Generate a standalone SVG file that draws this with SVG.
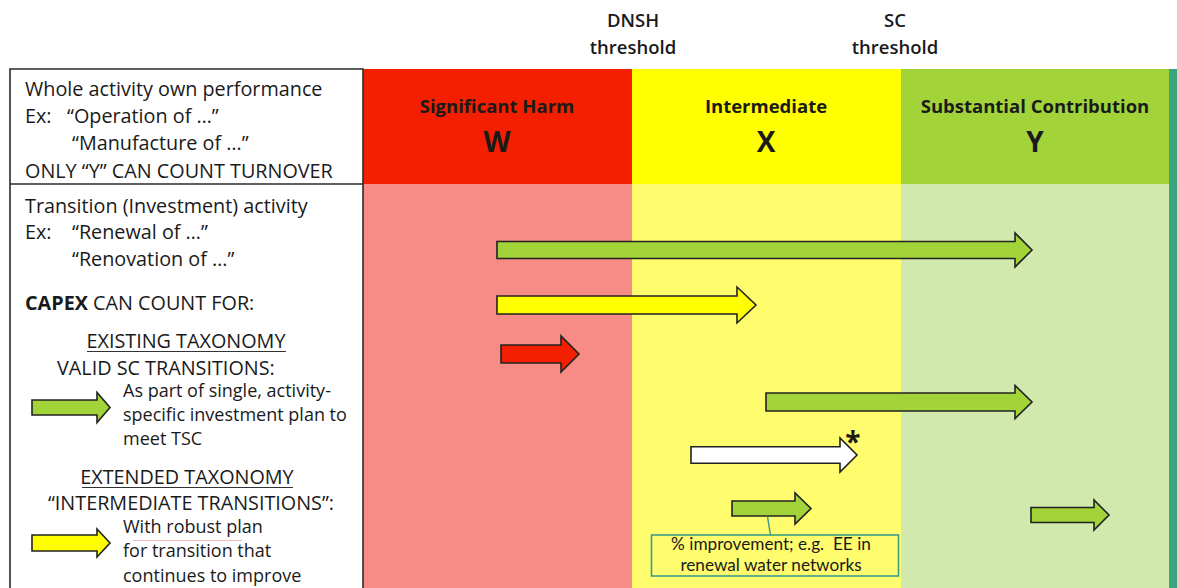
<svg xmlns="http://www.w3.org/2000/svg" width="1177" height="588" viewBox="0 0 1177 588">
<style>
text{font-family:"Open Sans",Lato,"Liberation Sans",sans-serif;fill:#1a1a1a}
.t{font-size:19.8px}
.s{font-size:18px}
.hd{font-size:18.5px;font-weight:bold;text-anchor:middle}
.big{font-size:28px;font-weight:bold;text-anchor:middle}
.th{font-size:18.5px;font-weight:600;text-anchor:middle}
.cap{font-family:Lato,"Open Sans",sans-serif;font-size:17.2px;text-anchor:middle}
.arw{stroke:#222;stroke-width:1.6;stroke-linejoin:miter}
.u{stroke:#333;stroke-width:1.2}
</style>
<rect width="1177" height="588" fill="#ffffff"/>
<g id="zones">
<rect x="363" y="69" width="269" height="115" fill="#f41f00"/>
<rect x="632" y="69" width="269" height="115" fill="#ffff00"/>
<rect x="901" y="69" width="268" height="115" fill="#a2d43a"/>
<rect x="363" y="184" width="269" height="404" fill="#f78b86"/>
<rect x="632" y="184" width="269" height="404" fill="#fffc6e"/>
<rect x="901" y="184" width="268" height="404" fill="#d1e9ac"/>
<rect x="1169" y="69" width="8" height="519" fill="#3aa37f"/>
</g>
<g id="thresholds">
<text class="th" x="633" y="27">DNSH</text>
<text class="th" x="633" y="54">threshold</text>
<text class="th" x="895" y="27">SC</text>
<text class="th" x="895" y="54">threshold</text>
</g>
<g id="zone-harm">
<text class="hd" x="497" y="113">Significant Harm</text>
<text class="big" x="497" y="152">W</text>
</g>
<g id="zone-intermediate">
<text class="hd" x="766" y="113">Intermediate</text>
<text class="big" x="766" y="152">X</text>
</g>
<g id="zone-sc">
<text class="hd" x="1035" y="113">Substantial Contribution</text>
<text class="big" x="1035" y="152">Y</text>
</g>
<g id="left-panel">
<path d="M10,588 V69 H363 V588 M10,184 H363" fill="none" stroke="#2b2b2b" stroke-width="1.6"/>
<text class="t" x="25" y="96">Whole activity own performance</text>
<text class="t" x="25" y="123">Ex:</text>
<text class="t" x="67" y="123">“Operation of …”</text>
<text class="t" x="72" y="150">“Manufacture of …”</text>
<text class="t" x="25" y="178">ONLY “Y” CAN COUNT TURNOVER</text>
<text class="t" x="25" y="213">Transition (Investment) activity</text>
<text class="t" x="25" y="239">Ex:</text>
<text class="t" x="72" y="239">“Renewal of …”</text>
<text class="t" x="72" y="266">“Renovation of …”</text>
<text class="t" x="25" y="310"><tspan font-weight="bold">CAPEX</tspan> CAN COUNT FOR:</text>
<text class="t" x="186" y="348" text-anchor="middle">EXISTING TAXONOMY</text>
<line class="u" x1="87" y1="351.5" x2="286" y2="351.5"/>
<text class="t" x="57" y="375">VALID SC TRANSITIONS:</text>
<text class="s" x="123" y="397">As part of single, activity-</text>
<text class="s" x="123" y="421">specific investment plan to</text>
<text class="s" x="123" y="445">meet TSC</text>
<text class="t" x="187" y="484" text-anchor="middle">EXTENDED TAXONOMY</text>
<line class="u" x1="82" y1="487.5" x2="293" y2="487.5"/>
<text class="t" x="191" y="510" text-anchor="middle">“INTERMEDIATE TRANSITIONS”:</text>
<text class="s" x="123" y="533">With robust plan</text>
<line x1="133" y1="540.5" x2="242" y2="540.5" stroke="#f4b6b6" stroke-width="1"/>
<text class="s" x="123" y="557">for transition that</text>
<text class="s" x="123" y="582">continues to improve</text>
<path class="arw" fill="#a2d43a" d="M32,400 H97 V392.5 L110,407.5 L97,422.5 V415 H32 Z"/>
<path class="arw" fill="#ffff00" d="M32,535 H97 V529 L110,543 L97,557 V551 H32 Z"/>
</g>
<g id="arrows">
<path class="arw" fill="#a2d43a" d="M497,241.5 H1015 V233 L1032,250 L1015,267 V258.5 H497 Z"/>
<path class="arw" fill="#ffff00" d="M497,296 H737 V287 L756,305 L737,323 V314 H497 Z"/>
<path class="arw" fill="#f41f00" d="M501,345 H561 V336 L579,354 L561,372 V363 H501 Z"/>
<path class="arw" fill="#a2d43a" d="M766,393 H1015 V385.5 L1032,402 L1015,418.5 V411 H766 Z"/>
<path class="arw" fill="#ffffff" d="M691,446.7 H840 V438 L857,455 L840,472 V463.3 H691 Z"/>
<text x="853" y="452" font-size="28" font-weight="bold" text-anchor="middle">*</text>
<path class="arw" fill="#a2d43a" d="M732,501 H795 V493 L811,508.5 L795,524 V516 H732 Z"/>
<path class="arw" fill="#a2d43a" d="M1031,507.5 H1094 V500 L1109,515 L1094,530 V522.5 H1031 Z"/>
</g>
<g id="connectors">
<line x1="767.5" y1="516.5" x2="770.5" y2="535" stroke="#3a9e86" stroke-width="1.5"/>
</g>
<g id="callout">
<rect x="651.5" y="535" width="247" height="41" fill="#fffc6e" stroke="#3a9e86" stroke-width="1.6"/>
<text class="cap" x="771" y="550">% improvement; e.g.&#160; EE in</text>
<text class="cap" x="771" y="571">renewal water networks</text>
</g>
</svg>
